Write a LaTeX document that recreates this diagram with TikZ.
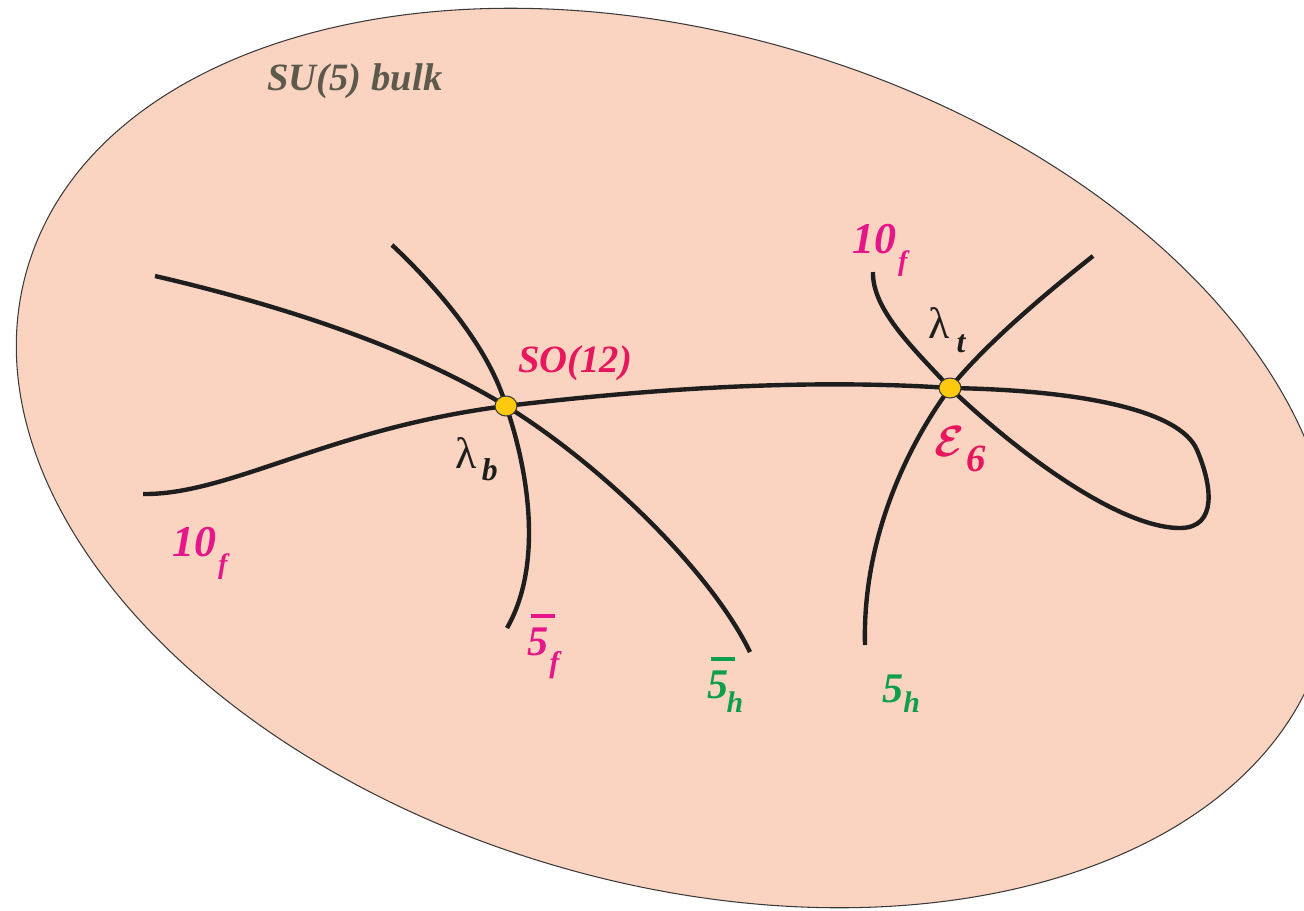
\documentclass[tikz,border=0pt]{standalone}
\usepackage{fontspec}
\setmainfont{Liberation Serif}
\usetikzlibrary{shapes.geometric}
\definecolor{bulkfill}{HTML}{FBD3C1}
\definecolor{bulkline}{HTML}{3A3A3A}
\definecolor{bulktext}{HTML}{5C5A4C}
\definecolor{crimson}{HTML}{E8175D}
\definecolor{magen}{HTML}{E5168A}
\definecolor{grn}{HTML}{0E9F4A}
\definecolor{dotfill}{HTML}{FFC90E}
\definecolor{curvecol}{HTML}{1E1E1E}
\newcommand\fsz[1]{\fontsize{#1}{#1}\selectfont}
\newcommand\barfive[1]{\makebox[0pt][l]{\hspace{2pt}\raisebox{21pt}{\color{#1}\rule{13.5pt}{2.3pt}}}5}
\begin{document}
\begin{tikzpicture}[x=0.02cm,y=-0.02cm,
  brane/.style={line width=2.5pt, draw=curvecol},
  junction/.style={ellipse, draw=bulkline, line width=0.6pt, fill=dotfill, minimum width=0.44cm, minimum height=0.40cm, inner sep=0pt},
  lab/.style={anchor=base west, inner sep=0pt, font=\bfseries\itshape}]
\useasboundingbox (0,0) rectangle (1304,910);
\clip (0,0) rectangle (1304,910);
% bulk
\draw[fill=bulkfill, draw=bulkline, line width=0.6pt, rotate around={-16.3:(675,458)}]
  (675,458) ellipse [x radius=13.5cm, y radius=8.5cm];
% junction points
\coordinate (n1c) at (506,406);
\coordinate (n2c) at (950,388);
% free ends
\coordinate (a1) at (155,276);
\coordinate (a2) at (750,652);
\coordinate (b1) at (392,245);
\coordinate (b2) at (507,628);
\coordinate (c1) at (143,494);
\coordinate (t10) at (873,272);
\coordinate (d1) at (1093,256);
\coordinate (d2) at (865,645);
\coordinate (lp) at (1197,450);
\coordinate (lq) at (1180,528);
% curves
\draw[brane] (a1) .. controls (280,305) and (410,347) .. (n1c)
  .. controls (600,464) and (710,570) .. (a2);
\draw[brane] (b1) .. controls (440,290) and (490,350) .. (n1c)
  .. controls (525,460) and (546,560) .. (b2);
\draw[brane] (c1) .. controls (230,495) and (330,428) .. (n1c);
\draw[brane] (n1c) .. controls (640,390) and (800,378) .. (n2c)
  .. controls (1080,390) and (1180,410) .. (lp)
  .. controls (1212,485) and (1218,528) .. (lq)
  .. controls (1120,528) and (1020,455) .. (n2c)
  .. controls (915,350) and (872,310) .. (t10);
\draw[brane] (d1) .. controls (1040,298) and (985,345) .. (n2c)
  .. controls (915,435) and (862,530) .. (d2);
% junction dots
\node[junction] (n1) at (n1c) {};
\node[junction] (n2) at (n2c) {};
% labels
\node[lab, text=bulktext, font=\bfseries\itshape\fsz{22}] (bulk) at (267,90) {SU(5) bulk};
\node[lab, text=crimson, font=\bfseries\itshape\fsz{22}] (so12) at (518,372) {SO(12)};
\node[lab, text=magen] (tenL) at (172,556) {\fsz{25}10\hspace{1pt}\raisebox{-10pt}{\fsz{16}f}};
\node[lab, text=magen] (tenT) at (852,253) {\fsz{25}10\hspace{1pt}\raisebox{-10pt}{\fsz{16}f}};
\node[lab, text=curvecol] (lb) at (455,468) {{\normalfont\fsz{25}λ}\hspace{3pt}\raisebox{-7pt}{\fsz{18}b}};
\node[lab, text=curvecol] (lt) at (928,338) {{\normalfont\fsz{25}λ}\hspace{4pt}\raisebox{-8pt}{\fsz{18}t}};
\node[lab, text=crimson] (e6) at (934,456) {\fsz{38}{\boldmath$\mathcal{E}$}\hspace{1pt}\raisebox{-9pt}{\fsz{22}6}};
\node[lab, text=magen] (fbf) at (527,655) {\fsz{24}\barfive{magen}\hspace{0.5pt}\raisebox{-10pt}{\fsz{17}f}};
\node[lab, text=grn] (fbh) at (707,698) {\fsz{24}\barfive{grn}\hspace{-1pt}\raisebox{-8pt}{\fsz{17}h}};
\node[lab, text=grn] (fh) at (882,702) {\fsz{24}5\raisebox{-6pt}{\fsz{17}h}};
\end{tikzpicture}
\end{document}
